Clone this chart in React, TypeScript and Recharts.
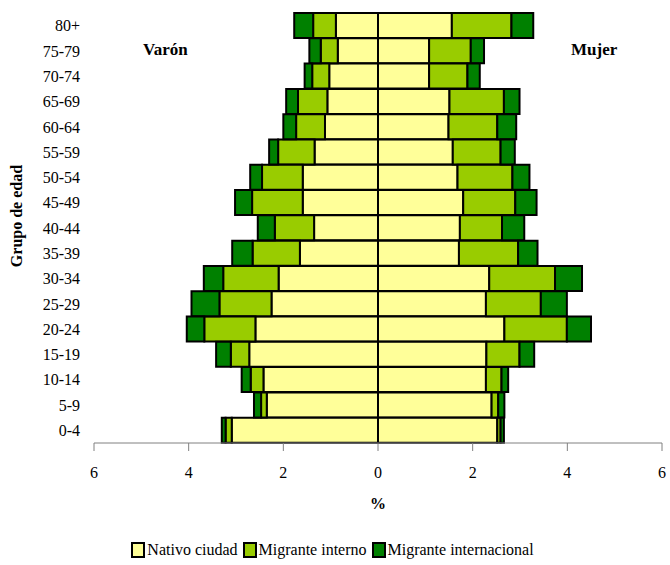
import { Bar, BarChart, XAxis, YAxis } from 'recharts';

const edades = ['80+', '75-79', '70-74', '65-69', '60-64', '55-59', '50-54', '45-49', '40-44', '35-39', '30-34', '25-29', '20-24', '15-19', '10-14', '5-9', '0-4'];

const varonNativo = [0.89, 0.85, 1.03, 1.07, 1.12, 1.34, 1.59, 1.59, 1.35, 1.65, 2.1, 2.25, 2.59, 2.72, 2.42, 2.35, 3.09];
const varonInterno = [0.48, 0.36, 0.36, 0.62, 0.61, 0.77, 0.86, 1.07, 0.83, 1.0, 1.17, 1.1, 1.08, 0.39, 0.27, 0.12, 0.13];
const varonInternacional = [0.4, 0.24, 0.16, 0.25, 0.27, 0.19, 0.25, 0.36, 0.36, 0.43, 0.41, 0.59, 0.37, 0.31, 0.19, 0.15, 0.08];

const mujerNativo = [1.56, 1.08, 1.08, 1.51, 1.49, 1.58, 1.68, 1.8, 1.73, 1.71, 2.35, 2.28, 2.67, 2.29, 2.28, 2.4, 2.52];
const mujerInterno = [1.26, 0.88, 0.81, 1.15, 1.03, 1.01, 1.16, 1.1, 0.89, 1.25, 1.39, 1.16, 1.32, 0.7, 0.33, 0.14, 0.07];
const mujerInternacional = [0.46, 0.28, 0.26, 0.33, 0.4, 0.3, 0.36, 0.45, 0.47, 0.41, 0.57, 0.55, 0.51, 0.31, 0.14, 0.13, 0.07];

const xTicks = [-6, -4, -2, 0, 2, 4, 6];

const data = edades.map((edad, i) => ({
  edad,
  vn: -varonNativo[i],
  vi: -varonInterno[i],
  vx: -varonInternacional[i],
  mn: mujerNativo[i],
  mi: mujerInterno[i],
  mx: mujerInternacional[i],
}));

const colores = { nativo: '#FFFF99', interno: '#99CC00', internacional: '#008000' };
const font = "'Liberation Serif', 'DejaVu Serif', serif";

const leyenda = [
  { label: 'Nativo ciudad', color: colores.nativo },
  { label: 'Migrante interno', color: colores.interno },
  { label: 'Migrante internacional', color: colores.internacional },
];

const App = () => {
  return (
    <div style={{ position: 'absolute', left: 0, top: 0, width: 670, height: 565, background: '#fff', fontFamily: font }}>
      <BarChart
        width={670}
        height={565}
        data={data}
        layout="vertical"
        stackOffset="sign"
        barCategoryGap={0}
        margin={{ top: 13, right: 8, bottom: 54, left: 0 }}
        style={{ fontFamily: font }}
      >
        <XAxis
          type="number"
          domain={[-6, 6]}
          ticks={xTicks}
          tickFormatter={(v: number) => String(Math.abs(v))}
          stroke="#808080"
          tickSize={8}
          tickMargin={16}
          tick={{ fill: '#000', fontSize: 16, style: { fontFamily: font } }}
          height={68}
          label={{ value: '%', position: 'insideBottom', offset: 2, fill: '#000', fontSize: 16, fontWeight: 'bold', style: { fontFamily: font } }}
        />
        <YAxis
          type="category"
          dataKey="edad"
          width={94}
          axisLine={false}
          tickLine={false}
          tickMargin={8}
          tick={{ fill: '#000', fontSize: 16, style: { fontFamily: font } }}
          interval={0}
          label={{ value: 'Grupo de edad', angle: -90, position: 'insideLeft', offset: 16, dy: -12, fill: '#000', fontSize: 16, fontWeight: 'bold', style: { textAnchor: 'middle', fontFamily: font } }}
        />
        <Bar dataKey="vn" stackId="s" fill={colores.nativo} stroke="#000" strokeWidth={2} isAnimationActive={false} />
        <Bar dataKey="vi" stackId="s" fill={colores.interno} stroke="#000" strokeWidth={2} isAnimationActive={false} />
        <Bar dataKey="vx" stackId="s" fill={colores.internacional} stroke="#000" strokeWidth={2} isAnimationActive={false} />
        <Bar dataKey="mn" stackId="s" fill={colores.nativo} stroke="#000" strokeWidth={2} isAnimationActive={false} />
        <Bar dataKey="mi" stackId="s" fill={colores.interno} stroke="#000" strokeWidth={2} isAnimationActive={false} />
        <Bar dataKey="mx" stackId="s" fill={colores.internacional} stroke="#000" strokeWidth={2} isAnimationActive={false} />
      </BarChart>
      <div style={{ position: 'absolute', left: 143, top: 40, fontSize: 17, fontWeight: 'bold' }}>Varón</div>
      <div style={{ position: 'absolute', left: 571, top: 40, fontSize: 17, fontWeight: 'bold' }}>Mujer</div>
      <div style={{ position: 'absolute', left: 0, width: 670, top: 541, display: 'flex', justifyContent: 'center', fontSize: 16, color: '#000' }}>
        {leyenda.map((l) => (
          <span key={l.label} style={{ display: 'flex', alignItems: 'center', marginRight: 5 }}>
            <span style={{ width: 10, height: 12, background: l.color, border: '2px solid #000', marginRight: 2, display: 'inline-block' }} />
            {l.label}
          </span>
        ))}
      </div>
    </div>
  );
};

export default App;
